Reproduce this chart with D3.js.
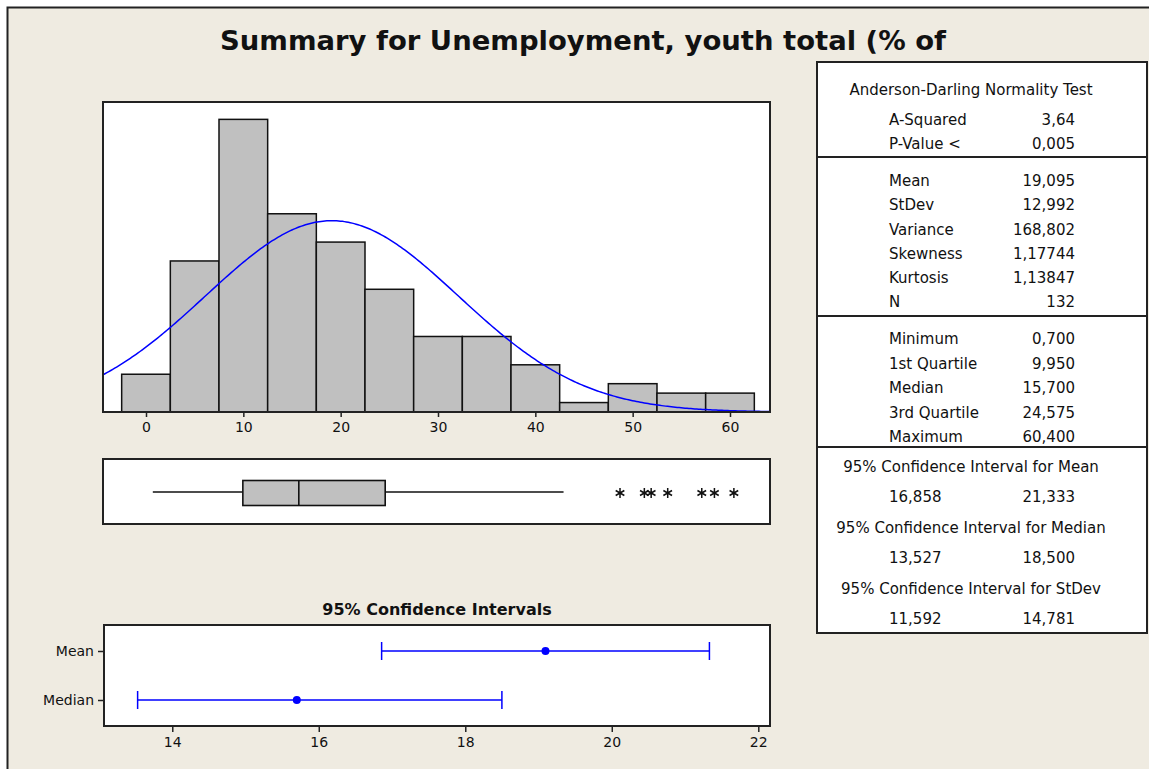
<!DOCTYPE html>
<html>
<head>
<meta charset="utf-8">
<script src="https://cdn.jsdelivr.net/npm/d3@7"></script>
<style>
  body { margin: 0; background: #fff; }
  text { font-family: "DejaVu Sans", sans-serif; fill: #111; }
</style>
</head>
<body>
<div id="chart"></div>
<script>
// histogram bins (midpoints, width 5) and counts
var binMids = [0, 5, 10, 15, 20, 25, 30, 35, 40, 45, 50, 55, 60];
var binCounts = [4, 16, 31, 21, 18, 13, 8, 8, 5, 1, 3, 2, 2];
var histTicks = [0, 10, 20, 30, 40, 50, 60];

// box plot summary
var boxStats = { min: 0.7, q1: 9.95, median: 15.7, q3: 24.575, whiskerHigh: 42.9 };
var outliers = [48.7, 51.2, 51.9, 53.6, 57.1, 58.4, 60.4];

// fitted normal
var mean = 19.095;
var stdev = 12.992;
var n = 132;

// confidence intervals
var ciNames = ["Mean", "Median"];
var ciLow = [16.858, 13.527];
var ciHigh = [21.333, 18.5];
var ciEst = [19.095, 15.7];
var ciTicks = [14, 16, 18, 20, 22];

// stats table
var adLabels = ["A-Squared", "P-Value <"];
var adValues = ["3,64", "0,005"];
var momentLabels = ["Mean", "StDev", "Variance", "Skewness", "Kurtosis", "N"];
var momentValues = ["19,095", "12,992", "168,802", "1,17744", "1,13847", "132"];
var quartLabels = ["Minimum", "1st Quartile", "Median", "3rd Quartile", "Maximum"];
var quartValues = ["0,700", "9,950", "15,700", "24,575", "60,400"];
var ciHeaders = ["95% Confidence Interval for Mean", "95% Confidence Interval for Median", "95% Confidence Interval for StDev"];
var ciTableLow = ["16,858", "13,527", "11,592"];
var ciTableHigh = ["21,333", "18,500", "14,781"];

var W = 1149, H = 769;
var bg = "#EFEBE1";

var svg = d3.select("#chart").append("svg")
  .attr("width", W).attr("height", H);

svg.append("rect").attr("width", W).attr("height", H).attr("fill", "#fff");
svg.append("rect").attr("x", 7).attr("y", 7).attr("width", W - 7).attr("height", H - 7).attr("fill", bg);
svg.append("path").attr("d", "M7.5," + H + "V7.5H" + W)
  .attr("fill", "none").attr("stroke", "#222").attr("stroke-width", 2);

// title
svg.append("text")
  .attr("x", 220).attr("y", 50)
  .attr("textLength", 726).attr("lengthAdjust", "spacingAndGlyphs")
  .style("font-size", "27px").style("font-weight", "bold")
  .text("Summary for Unemployment, youth total (% of");

// ---------- histogram ----------
var hist = { left: 103, right: 770, top: 102, bottom: 412 };

var x = d3.scaleLinear().domain([-4.418, 64.11]).range([hist.left, hist.right]);
var y = d3.scaleLinear().domain([0, 32.84]).range([hist.bottom, hist.top]);

svg.append("rect")
  .attr("x", hist.left).attr("y", hist.top)
  .attr("width", hist.right - hist.left).attr("height", hist.bottom - hist.top)
  .attr("fill", "#fff");

svg.append("defs").append("clipPath").attr("id", "histclip")
  .append("rect")
  .attr("x", hist.left).attr("y", hist.top)
  .attr("width", hist.right - hist.left).attr("height", hist.bottom - hist.top);

svg.append("g").selectAll("rect")
  .data(binMids)
  .enter()
  .append("rect")
  .attr("x", function(d) { return x(d - 2.5); })
  .attr("y", function(d, i) { return y(binCounts[i]); })
  .attr("width", function(d) { return x(d + 2.5) - x(d - 2.5); })
  .attr("height", function(d, i) { return y(0) - y(binCounts[i]); })
  .attr("fill", "#C0C0C0")
  .attr("stroke", "#111")
  .attr("stroke-width", 1.5);

// normal curve scaled to counts (bin width 5)
var curvePts = d3.range(-4.418, 64.2, 0.2).map(function(v) {
  var z = (v - mean) / stdev;
  return [v, n * 5 * Math.exp(-0.5 * z * z) / (stdev * Math.sqrt(2 * Math.PI))];
});
svg.append("path")
  .datum(curvePts)
  .attr("clip-path", "url(#histclip)")
  .attr("fill", "none")
  .attr("stroke", "#0000FF")
  .attr("stroke-width", 1.5)
  .attr("d", d3.line().x(function(d) { return x(d[0]); }).y(function(d) { return y(d[1]); }));

svg.append("rect")
  .attr("x", hist.left).attr("y", hist.top)
  .attr("width", hist.right - hist.left).attr("height", hist.bottom - hist.top)
  .attr("fill", "none").attr("stroke", "#222").attr("stroke-width", 2);

var xAxis = svg.append("g")
  .attr("transform", "translate(0," + hist.bottom + ")")
  .call(d3.axisBottom(x).tickValues(histTicks).tickSize(5).tickPadding(5));
xAxis.select(".domain").remove();
xAxis.selectAll("line").attr("stroke", "#222").attr("stroke-width", 1.5);
xAxis.selectAll("text").style("font-size", "14px").style("font-family", "DejaVu Sans").attr("fill", "#111");

// ---------- box plot ----------
var bp = { top: 459, bottom: 524 };
var bpMid = 492;

svg.append("rect")
  .attr("x", hist.left).attr("y", bp.top)
  .attr("width", hist.right - hist.left).attr("height", bp.bottom - bp.top)
  .attr("fill", "#fff").attr("stroke", "#222").attr("stroke-width", 2);

var bpG = svg.append("g");
bpG.append("line")
  .attr("x1", x(boxStats.min)).attr("x2", x(boxStats.q1))
  .attr("y1", bpMid).attr("y2", bpMid)
  .attr("stroke", "#111").attr("stroke-width", 1.6);
bpG.append("line")
  .attr("x1", x(boxStats.q3)).attr("x2", x(boxStats.whiskerHigh))
  .attr("y1", bpMid).attr("y2", bpMid)
  .attr("stroke", "#111").attr("stroke-width", 1.6);
bpG.append("rect")
  .attr("x", x(boxStats.q1)).attr("y", 480.5)
  .attr("width", x(boxStats.q3) - x(boxStats.q1)).attr("height", 25)
  .attr("fill", "#C0C0C0").attr("stroke", "#111").attr("stroke-width", 1.6);
bpG.append("line")
  .attr("x1", x(boxStats.median)).attr("x2", x(boxStats.median))
  .attr("y1", 480.5).attr("y2", 505.5)
  .attr("stroke", "#111").attr("stroke-width", 1.6);

bpG.selectAll(".outlier")
  .data(outliers)
  .enter()
  .append("path")
  .attr("class", "outlier")
  .attr("transform", function(d) { return "translate(" + x(d) + "," + (bpMid + 1) + ")"; })
  .attr("d", d3.symbol().type(d3.symbolAsterisk).size(70))
  .attr("fill", "none").attr("stroke", "#111").attr("stroke-width", 1.5);

// ---------- confidence intervals ----------
var ci = { left: 104, right: 770, top: 625, bottom: 726 };
var cx = d3.scaleLinear().domain([13.068, 22.16]).range([ci.left, ci.right]);
var cy = d3.scalePoint().domain(ciNames).range([651, 700]);

svg.append("text")
  .attr("x", 437).attr("y", 615)
  .style("text-anchor", "middle")
  .style("font-size", "16px").style("font-weight", "bold")
  .text("95% Confidence Intervals");

svg.append("rect")
  .attr("x", ci.left).attr("y", ci.top)
  .attr("width", ci.right - ci.left).attr("height", ci.bottom - ci.top)
  .attr("fill", "#fff").attr("stroke", "#222").attr("stroke-width", 2);

var ciG = svg.append("g").selectAll("g")
  .data(ciNames)
  .enter()
  .append("g")
  .attr("transform", function(d) { return "translate(0," + cy(d) + ")"; });

ciG.append("line")
  .attr("x1", function(d, i) { return cx(ciLow[i]); })
  .attr("x2", function(d, i) { return cx(ciHigh[i]); })
  .attr("stroke", "#0000FF").attr("stroke-width", 1.5);
ciG.append("line")
  .attr("x1", function(d, i) { return cx(ciLow[i]); })
  .attr("x2", function(d, i) { return cx(ciLow[i]); })
  .attr("y1", -9).attr("y2", 9)
  .attr("stroke", "#0000FF").attr("stroke-width", 1.5);
ciG.append("line")
  .attr("x1", function(d, i) { return cx(ciHigh[i]); })
  .attr("x2", function(d, i) { return cx(ciHigh[i]); })
  .attr("y1", -9).attr("y2", 9)
  .attr("stroke", "#0000FF").attr("stroke-width", 1.5);
ciG.append("circle")
  .attr("cx", function(d, i) { return cx(ciEst[i]); })
  .attr("r", 4)
  .attr("fill", "#0000FF");

var cxAxis = svg.append("g")
  .attr("transform", "translate(0," + ci.bottom + ")")
  .call(d3.axisBottom(cx).tickValues(ciTicks).tickSize(6).tickPadding(5));
cxAxis.select(".domain").remove();
cxAxis.selectAll("line").attr("stroke", "#222").attr("stroke-width", 1.5);
cxAxis.selectAll("text").style("font-size", "14px").style("font-family", "DejaVu Sans").attr("fill", "#111");

var cyAxis = svg.append("g")
  .attr("transform", "translate(" + ci.left + ",0)")
  .call(d3.axisLeft(cy).tickSize(6).tickPadding(4));
cyAxis.select(".domain").remove();
cyAxis.selectAll("line").attr("stroke", "#222").attr("stroke-width", 1.5);
cyAxis.selectAll("text").style("font-size", "14px").style("font-family", "DejaVu Sans").attr("fill", "#111");

// ---------- stats table ----------
var tb = { left: 817, right: 1147, top: 62, bottom: 633 };
var labelX = 889, valueX = 1075, centerX = 971;

svg.append("rect")
  .attr("x", tb.left).attr("y", tb.top)
  .attr("width", tb.right - tb.left).attr("height", tb.bottom - tb.top)
  .attr("fill", "#fff").attr("stroke", "#222").attr("stroke-width", 2);

svg.selectAll(".sep")
  .data([157, 316, 447])
  .enter()
  .append("line")
  .attr("class", "sep")
  .attr("x1", tb.left).attr("x2", tb.right)
  .attr("y1", function(d) { return d; }).attr("y2", function(d) { return d; })
  .attr("stroke", "#222").attr("stroke-width", 2);

var tbl = svg.append("g").style("font-size", "15px");

function addRows(labels, values, y0, step) {
  labels.forEach(function(l, i) {
    var yy = y0 + i * step;
    tbl.append("text").attr("x", labelX).attr("y", yy).attr("dy", "0.35em").text(l);
    tbl.append("text").attr("x", valueX).attr("y", yy).attr("dy", "0.35em")
      .style("text-anchor", "end").text(values[i]);
  });
}

tbl.append("text").attr("x", centerX).attr("y", 90).attr("dy", "0.35em")
  .style("text-anchor", "middle").text("Anderson-Darling Normality Test");
addRows(adLabels, adValues, 120, 23.5);
addRows(momentLabels, momentValues, 181, 24.2);
addRows(quartLabels, quartValues, 339, 24.5);

ciHeaders.forEach(function(h, i) {
  var yy = 467 + i * 61;
  tbl.append("text").attr("x", centerX).attr("y", yy).attr("dy", "0.35em")
    .style("text-anchor", "middle").text(h);
  tbl.append("text").attr("x", labelX).attr("y", yy + 30).attr("dy", "0.35em").text(ciTableLow[i]);
  tbl.append("text").attr("x", valueX).attr("y", yy + 30).attr("dy", "0.35em")
    .style("text-anchor", "end").text(ciTableHigh[i]);
});
</script>
</body>
</html>
